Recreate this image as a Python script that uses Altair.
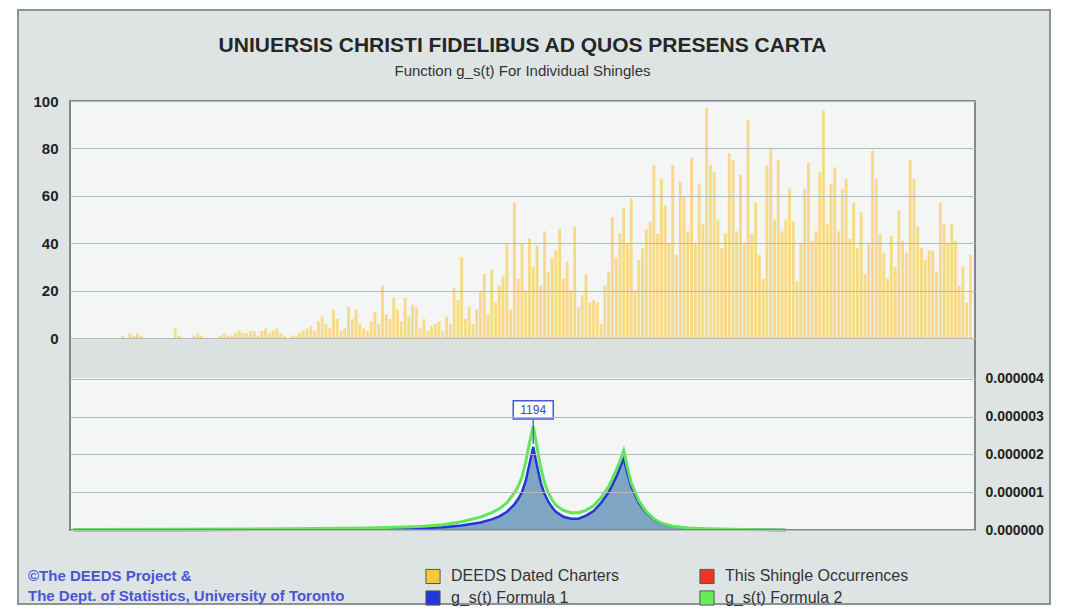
import altair as alt
import pandas as pd

# ---------------- data ----------------
years = list(range(1072, 1311))
charters = [
    0, 0, 0, 0, 0, 0, 0, 0, 0, 0, 0, 0, 0,
    1, 0, 2, 1, 2, 1, 0, 0, 0, 0,
    0, 0, 0, 0, 4, 1, 0, 0, 0, 1,
    2, 1, 0, 0, 0, 0, 1, 2, 1, 1,
    2, 3, 2, 2, 3, 3, 1, 3, 4, 2,
    3, 4, 2, 1, 0, 1, 1, 2, 3, 4,
    5, 3, 7, 9, 6, 4, 12, 8, 3, 4,
    13, 8, 12, 6, 4, 3, 7, 11, 6, 22,
    10, 8, 17, 12, 7, 17, 9, 14, 13, 4,
    8, 3, 5, 6, 7, 3, 9, 6, 21, 16,
    34, 8, 13, 6, 12, 20, 27, 10, 29, 15,
    22, 26, 40, 12, 57, 25, 40, 20, 42, 30,
    39, 22, 45, 28, 34, 37, 46, 25, 32, 20,
    47, 13, 18, 27, 15, 16, 15, 6, 22, 28,
    51, 34, 44, 55, 40, 59, 20, 33, 38, 46,
    49, 73, 44, 67, 56, 40, 73, 35, 66, 60,
    45, 76, 40, 65, 48, 97, 73, 70, 50, 38,
    44, 78, 75, 45, 69, 40, 92, 44, 57, 35,
    25, 73, 80, 50, 75, 45, 50, 63, 49, 24,
    40, 63, 74, 41, 45, 70, 96, 48, 65, 72,
    45, 63, 67, 42, 57, 38, 53, 27, 40, 79,
    67, 44, 36, 25, 43, 30, 54, 41, 36, 75,
    67, 47, 38, 33, 37, 37, 28, 57, 48, 40,
    48, 41, 22, 30, 15, 35,
]

curve_years = [1072, 1100, 1130, 1150, 1160, 1165, 1170, 1175, 1180, 1183, 1185,
               1187, 1189, 1190, 1191, 1192, 1193, 1194, 1195, 1196, 1197, 1198,
               1199, 1200, 1202, 1204, 1206, 1208, 1210, 1212, 1214, 1216, 1217,
               1218, 1219, 1220, 1222, 1224, 1226, 1228, 1231, 1235, 1240, 1250, 1261]
formula1 = [0.0, 0.0, 0.01e-6, 0.02e-6, 0.03e-6, 0.05e-6, 0.07e-6, 0.12e-6, 0.2e-6, 0.28e-6, 0.36e-6,
            0.48e-6, 0.68e-6, 0.82e-6, 1.0e-6, 1.3e-6, 1.75e-6, 2.2e-6, 1.7e-6, 1.25e-6, 0.95e-6, 0.75e-6,
            0.6e-6, 0.48e-6, 0.35e-6, 0.3e-6, 0.3e-6, 0.38e-6, 0.5e-6, 0.72e-6, 1.0e-6, 1.4e-6, 1.65e-6,
            1.9e-6, 1.5e-6, 1.15e-6, 0.72e-6, 0.45e-6, 0.28e-6, 0.17e-6, 0.09e-6, 0.05e-6, 0.02e-6, 0.01e-6, 0.0]
formula2 = [0.01e-6, 0.02e-6, 0.03e-6, 0.05e-6, 0.08e-6, 0.1e-6, 0.14e-6, 0.22e-6, 0.34e-6, 0.46e-6, 0.56e-6,
            0.72e-6, 0.98e-6, 1.15e-6, 1.4e-6, 1.8e-6, 2.3e-6, 2.75e-6, 2.2e-6, 1.65e-6, 1.25e-6, 0.98e-6,
            0.8e-6, 0.66e-6, 0.52e-6, 0.46e-6, 0.46e-6, 0.52e-6, 0.64e-6, 0.86e-6, 1.15e-6, 1.58e-6, 1.82e-6,
            2.1e-6, 1.65e-6, 1.25e-6, 0.78e-6, 0.48e-6, 0.3e-6, 0.18e-6, 0.1e-6, 0.05e-6, 0.03e-6, 0.01e-6, 0.0]

# legend fills column by column: col 1 = first two names, col 2 = last two
series_names = ["DEEDS Dated Charters", "g_s(t) Formula 1", "This Shingle Occurrences", "g_s(t) Formula 2"]
series_colors = ["#f7c83c", "#2536d8", "#e8391d", "#66ec58"]

tick_years = [1072, 1095, 1110, 1125, 1140, 1155, 1170, 1185, 1200, 1215, 1230, 1245, 1260, 1275, 1290, 1305]
tick_labels = ["1072", "'95", "'10", "'25", "'40", "'55", "'70", "'85", "'00", "'15", "'30", "'45", "'60", "'75", "'90", "'05"]
left_ticks = [0, 20, 40, 60, 80, 100]
right_ticks = [0.0, 1e-6, 2e-6, 3e-6, 4e-6]

peak_year = [1194]
peak_label = ["1194"]
peak_value = [2.2e-6]

credits = ["\u00a9The DEEDS Project &", "The Dept. of Statistics, University of Toronto"]

# ---------------- chart ----------------
FONT = "Liberation Sans"
W, H = 905, 429

label_expr = "".join(f"datum.value == {v} ? \"{t}\" : " for v, t in zip(tick_years, tick_labels)) + "''"

xscale = alt.Scale(domain=[1071.1, 1311.2], nice=False, zero=False)
x_axis = alt.Axis(values=tick_years, labelExpr=label_expr, ticks=False, domain=False, grid=False,
                  labelFont=FONT, labelFontSize=15, labelFontWeight="bold", labelColor="#222222",
                  labelPadding=8, labelOverlap=False, title=None)
ytop = alt.Scale(domain=[-81.0, 100.0], nice=False, zero=False)
ybot = alt.Scale(domain=[0.0, 11.36e-6], nice=False, zero=False)

bars_df = pd.DataFrame({"year": years, "count": charters, "series": series_names[0]})
curves_df = pd.DataFrame({"year": curve_years, "f1": formula1, "f2": formula2})
ann_df = pd.DataFrame({"year": peak_year, "value": peak_value, "label": peak_label})
one = pd.DataFrame({"k": [0]})
credit_df = pd.DataFrame({"line": credits, "i": list(range(len(credits)))})

panel = alt.Chart(one).mark_rect(fill="#dee4e4", stroke="#8d9494", strokeWidth=2).encode(
    x=alt.value(-52), x2=alt.value(980), y=alt.value(-91), y2=alt.value(503))
plotbg = alt.Chart(one).mark_rect(fill="#f4f6f6").encode(
    x=alt.value(0), x2=alt.value(W), y=alt.value(0), y2=alt.value(H))
band = alt.Chart(one).mark_rect(fill="#dce2e2").encode(
    x=alt.value(0), x2=alt.value(W), y=alt.value(237), y2=alt.value(277))

bars = alt.Chart(bars_df).transform_calculate(
    x0="datum.year - 0.38", x1="datum.year + 0.38"
).mark_bar(opacity=0.6).encode(
    x=alt.X("x0:Q", scale=xscale, axis=x_axis, title=None),
    x2="x1:Q",
    y=alt.Y("count:Q", scale=ytop, title=None,
            axis=alt.Axis(orient="left", values=left_ticks, ticks=False, domain=False, grid=True,
                          gridColor="#b3bbbb", gridWidth=1, zindex=1, labelFont=FONT, labelFontSize=15,
                          labelFontWeight="bold", labelColor="#222222", labelPadding=12, title=None)),
    y2=alt.datum(0),
    color=alt.Color("series:N", scale=alt.Scale(domain=series_names, range=series_colors),
                    legend=alt.Legend(orient="none", legendX=355, legendY=467, columns=2, title=None,
                                      symbolType="square", symbolSize=200, symbolOpacity=1,
                                      symbolStrokeColor="#555555", symbolStrokeWidth=1,
                                      labelFont=FONT, labelFontSize=16, labelColor="#333333",
                                      labelLimit=400, labelOffset=10, columnPadding=77, rowPadding=2)),
)

area = alt.Chart(curves_df).mark_area(color="#78a0c1", opacity=0.95).encode(
    x=alt.X("year:Q", scale=xscale, axis=x_axis, title=None),
    y=alt.Y("f1:Q", scale=ybot, title=None,
            axis=alt.Axis(orient="right", values=right_ticks, format=".6f", ticks=False, domain=False,
                          grid=True, gridColor="#b3bbbb", gridWidth=1, zindex=1, labelFont=FONT,
                          labelFontSize=14, labelFontWeight="bold", labelColor="#222222",
                          labelPadding=10, title=None)),
)
line1 = alt.Chart(curves_df).mark_line(color="#2536d8", strokeWidth=2.5).encode(
    x=alt.X("year:Q", scale=xscale, axis=x_axis, title=None),
    y=alt.Y("f1:Q", scale=ybot, axis=None, title=None),
)
line2 = alt.Chart(curves_df).mark_line(color="#5fe65a", strokeWidth=3).encode(
    x=alt.X("year:Q", scale=xscale, axis=x_axis, title=None),
    y=alt.Y("f2:Q", scale=ybot, axis=None, title=None),
)

pointer = alt.Chart(ann_df).mark_rule(color="#4a5ad0", strokeWidth=1.3, yOffset=-27, y2Offset=-3).encode(
    x=alt.X("year:Q", scale=xscale, axis=x_axis, title=None),
    y=alt.Y("value:Q", scale=ybot, axis=None, title=None),
    y2="value:Q",
)
box = alt.Chart(ann_df).mark_point(shape="M-1,-0.46L1,-0.46L1,0.46L-1,0.46Z", size=1600, filled=True,
                                   fill="#ffffff", stroke="#4a5ad0", strokeWidth=1.5, opacity=1,
                                   yOffset=-37).encode(
    x=alt.X("year:Q", scale=xscale, axis=x_axis, title=None),
    y=alt.Y("value:Q", scale=ybot, axis=None, title=None),
)
ann_text = alt.Chart(ann_df).mark_text(font=FONT, fontSize=12, color="#3a48c0", yOffset=-37,
                                       baseline="middle").encode(
    x=alt.X("year:Q", scale=xscale, axis=x_axis, title=None),
    y=alt.Y("value:Q", scale=ybot, axis=None, title=None),
    text="label:N",
)

frame = alt.Chart(one).mark_rect(fillOpacity=0, stroke="#7f8787", strokeWidth=2).encode(
    x=alt.value(0), x2=alt.value(W), y=alt.value(0), y2=alt.value(H))

credit_text = alt.Chart(credit_df).mark_text(font=FONT, fontSize=15, fontWeight="bold", color="#4a55d8",
                                             align="left", baseline="middle").encode(
    x=alt.value(-42),
    y=alt.Y("i:Q", scale=alt.Scale(domain=[0, 1], range=[475, 495]), axis=None, title=None),
    text="line:N",
)

chart = alt.layer(
    panel, plotbg, band, bars, area, line1, line2, pointer, box, ann_text, frame, credit_text
).resolve_scale(y="independent").properties(
    width=W, height=H,
    padding={"left": 62, "top": 93, "right": 83, "bottom": 76},
    autosize=alt.AutoSizeParams(type="none"),
    background="#ffffff",
    title=alt.TitleParams(
        text="UNIUERSIS CHRISTI FIDELIBUS AD QUOS PRESENS CARTA",
        subtitle="Function g_s(t) For Individual Shingles",
        anchor="middle", frame="group", font=FONT, fontSize=21, fontWeight="bold", color="#262626",
        subtitleFont=FONT, subtitleFontSize=15, subtitleColor="#333333", subtitlePadding=8, offset=-70,
    ),
).configure_view(strokeWidth=0)

chart.save("out.html", embed_options={"renderer": "svg", "actions": False})
